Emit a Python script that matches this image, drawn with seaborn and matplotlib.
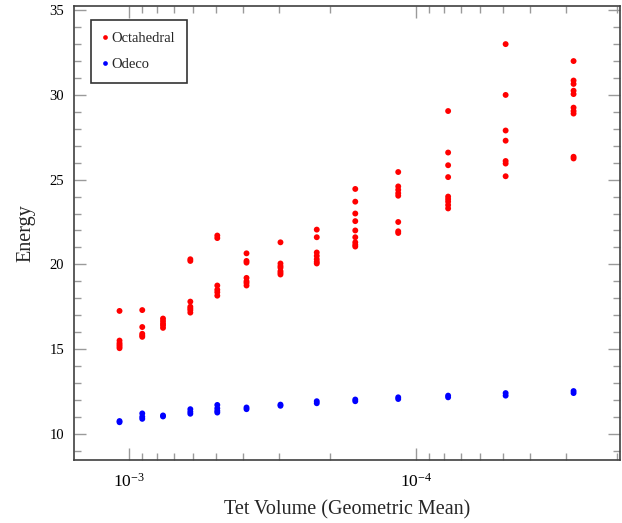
import numpy as np
import pandas as pd
import matplotlib
matplotlib.use("Agg")
import matplotlib.pyplot as plt
import matplotlib.ticker as mticker
import seaborn as sns

# ---- data ----
tet_volume = [1.08e-3, 9.0e-4, 7.62e-4, 6.12e-4, 4.93e-4, 3.90e-4, 2.97e-4,
              2.22e-4, 1.63e-4, 1.155e-4, 7.74e-5, 4.88e-5, 2.83e-5]

octahedral = [
    [17.25, 15.5, 15.35, 15.25, 15.15, 15.05],
    [17.3, 16.3, 15.9, 15.8, 15.72],
    [16.8, 16.65, 16.5, 16.4, 16.25],
    [20.3, 20.2, 17.8, 17.5, 17.4, 17.3, 17.15],
    [21.7, 21.55, 18.75, 18.5, 18.35, 18.15],
    [20.65, 20.2, 20.1, 19.2, 19.0, 18.9, 18.75],
    [21.3, 20.05, 19.9, 19.8, 19.6, 19.5, 19.4],
    [22.05, 21.6, 20.7, 20.5, 20.3, 20.15, 20.05],
    [24.45, 23.7, 23.0, 22.55, 22.0, 21.6, 21.3, 21.15, 21.05],
    [25.45, 24.6, 24.4, 24.2, 24.05, 22.5, 21.95, 21.85],
    [29.05, 26.6, 25.85, 25.15, 24.0, 23.85, 23.7, 23.5, 23.3],
    [33.0, 30.0, 27.9, 27.3, 26.1, 25.95, 25.2],
    [32.0, 30.85, 30.65, 30.25, 30.05, 29.25, 29.05, 28.9, 26.35, 26.25],
]

odeco = [
    [10.75, 10.68],
    [11.2, 11.0, 10.88],
    [11.08, 11.02],
    [11.45, 11.3, 11.18],
    [11.7, 11.5, 11.35, 11.25],
    [11.55, 11.45],
    [11.72, 11.65],
    [11.92, 11.8],
    [12.02, 11.92],
    [12.15, 12.05],
    [12.25, 12.15],
    [12.4, 12.25],
    [12.52, 12.4],
]

series_names = ["Octahedral", "Odeco"]
series_colors = ["#ff0000", "#0000ff"]

rows = []
for name, groups in zip(series_names, [octahedral, odeco]):
    for xv, ys in zip(tet_volume, groups):
        for yv in ys:
            rows.append({"x": xv, "Energy": yv, "series": name})
df = pd.DataFrame(rows)

# ---- plot ----
sns.set_theme(style="ticks")
plt.rcParams["font.family"] = ["Liberation Serif", "DejaVu Serif"]
plt.rcParams["mathtext.fontset"] = "stix"

fig = plt.figure(figsize=(6.22, 5.23), dpi=100)
ax = fig.add_axes([74 / 622, 1 - 460 / 523, 546 / 622, 454 / 523])

sns.scatterplot(data=df, x="x", y="Energy", hue="series",
                palette=dict(zip(series_names, series_colors)),
                hue_order=series_names, s=18, linewidth=0, ax=ax, legend=True)

ax.set_xscale("log")
ax.set_xlim(1.556e-3, 1.95e-5)
ax.set_ylim(8.45, 35.25)

ax.xaxis.set_major_locator(mticker.LogLocator(base=10, numticks=10))
ax.xaxis.set_minor_locator(mticker.LogLocator(base=10, subs=np.arange(2, 10), numticks=20))
ax.xaxis.set_minor_formatter(mticker.NullFormatter())
ax.yaxis.set_major_locator(mticker.MultipleLocator(5))
ax.yaxis.set_minor_locator(mticker.MultipleLocator(1))

ax.tick_params(which="both", direction="in", top=True, right=True,
               color="#9a9a9a", width=1.0, labelcolor="black")
ax.tick_params(which="major", length=8.6)
ax.tick_params(which="minor", length=5)
ax.tick_params(axis="y", which="major", labelsize=10.5, pad=7)
ax.tick_params(axis="x", which="major", labelsize=12.5, pad=9)

for sp in ax.spines.values():
    sp.set_color("#404040")
    sp.set_linewidth(1.2)

ax.set_xlabel("Tet Volume (Geometric Mean)", fontsize=14.5, labelpad=7)
ax.set_ylabel("Energy", fontsize=14.5, labelpad=10)

handles, labels = ax.get_legend_handles_labels()
leg = ax.legend(handles, labels, loc="upper left",
                bbox_to_anchor=(17 / 546, 1 - 14 / 454), frameon=True,
                fancybox=False, edgecolor="black", fontsize=10.5,
                markerscale=0.8, handletextpad=0.3, borderpad=0.8,
                labelspacing=0.9, handlelength=0.3, borderaxespad=0)
leg.get_frame().set_linewidth(1.2)

fig.savefig("out.png", dpi=100)
